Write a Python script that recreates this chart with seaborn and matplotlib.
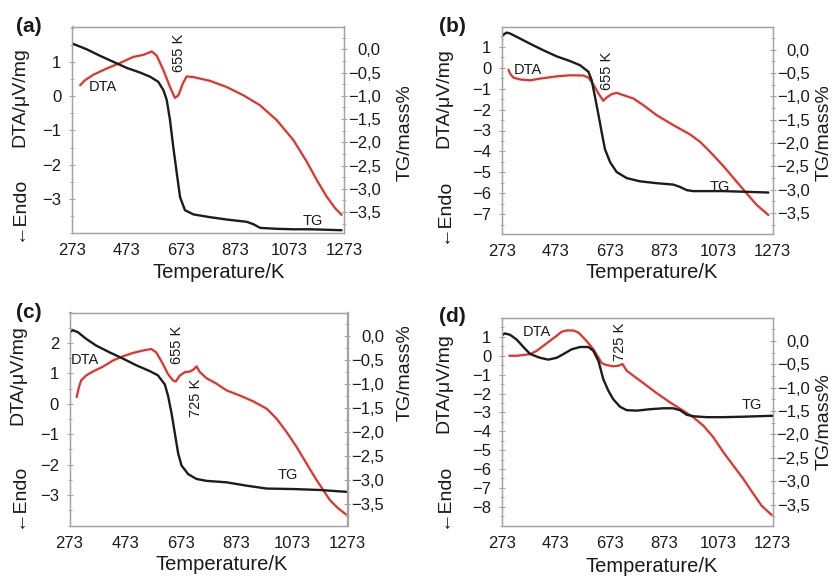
import matplotlib
matplotlib.use("Agg")
import matplotlib.pyplot as plt
import pandas as pd
import seaborn as sns
from matplotlib.ticker import MultipleLocator, FixedLocator, FuncFormatter

# values (temperature in K)
a_dta_temp = [304, 322, 353, 401, 450, 499, 536, 567, 585, 610, 634, 652, 665, 681, 695, 720, 781, 842, 903, 964, 1026, 1087, 1136, 1173, 1209, 1240, 1264]
a_dta = [0.32, 0.47, 0.63, 0.81, 0.97, 1.15, 1.21, 1.31, 1.19, 0.76, 0.27, -0.05, 0.03, 0.37, 0.58, 0.56, 0.45, 0.27, 0.03, -0.26, -0.70, -1.28, -1.91, -2.45, -2.93, -3.27, -3.47]
a_tg_temp = [273, 328, 377, 426, 475, 524, 561, 591, 610, 622, 634, 646, 659, 671, 689, 720, 781, 842, 916, 940, 965, 1026, 1087, 1148, 1264]
a_tg = [0.13, 0.0, -0.14, -0.27, -0.40, -0.50, -0.59, -0.70, -0.88, -1.09, -1.52, -2.10, -2.67, -3.18, -3.46, -3.55, -3.61, -3.66, -3.71, -3.76, -3.84, -3.86, -3.87, -3.87, -3.89]

b_dta_temp = [298, 304, 316, 341, 378, 414, 476, 525, 574, 593, 611, 630, 648, 660, 679, 697, 722, 759, 796, 845, 906, 968, 1005, 1042, 1091, 1140, 1177, 1214, 1257]
b_dta = [-0.09, -0.28, -0.47, -0.56, -0.60, -0.52, -0.41, -0.36, -0.37, -0.47, -0.79, -1.23, -1.58, -1.42, -1.26, -1.20, -1.31, -1.47, -1.79, -2.27, -2.74, -3.19, -3.54, -4.02, -4.70, -5.45, -6.01, -6.56, -7.04]
b_tg_temp = [273, 291, 304, 328, 378, 427, 476, 525, 562, 593, 605, 617, 630, 642, 654, 673, 697, 734, 783, 845, 906, 931, 956, 980, 1091, 1257]
b_tg = [0.30, 0.37, 0.35, 0.28, 0.13, -0.01, -0.14, -0.24, -0.33, -0.47, -0.65, -1.0, -1.39, -1.77, -2.13, -2.41, -2.62, -2.75, -2.82, -2.86, -2.89, -2.94, -3.01, -3.03, -3.03, -3.06]

c_dta_temp = [299, 307, 315, 333, 357, 393, 429, 465, 501, 537, 567, 585, 609, 627, 645, 655, 670, 688, 706, 718, 730, 742, 766, 802, 838, 886, 934, 982, 1018, 1054, 1090, 1126, 1162, 1186, 1210, 1240, 1268]
c_dta = [0.22, 0.55, 0.77, 0.93, 1.06, 1.22, 1.42, 1.56, 1.67, 1.75, 1.80, 1.69, 1.31, 0.98, 0.77, 0.73, 0.93, 1.04, 1.06, 1.12, 1.23, 1.04, 0.84, 0.66, 0.44, 0.27, 0.08, -0.16, -0.49, -0.93, -1.42, -1.97, -2.51, -2.84, -3.17, -3.44, -3.64]
c_tg_temp = [273, 285, 303, 333, 369, 417, 465, 513, 561, 591, 616, 628, 640, 652, 664, 676, 700, 730, 766, 838, 910, 982, 1078, 1174, 1273]
c_tg = [0.08, 0.12, 0.08, -0.06, -0.20, -0.34, -0.47, -0.61, -0.73, -0.82, -1.01, -1.26, -1.61, -2.03, -2.45, -2.70, -2.88, -2.98, -3.02, -3.05, -3.12, -3.18, -3.19, -3.21, -3.25]

d_dta_temp = [301, 328, 353, 378, 402, 427, 451, 476, 494, 513, 537, 556, 574, 593, 611, 630, 642, 660, 685, 703, 719, 734, 759, 796, 845, 894, 943, 980, 1017, 1054, 1091, 1128, 1165, 1202, 1232, 1269]
d_dta = [0.0, 0.0, 0.04, 0.09, 0.26, 0.53, 0.79, 1.06, 1.27, 1.34, 1.34, 1.23, 0.97, 0.67, 0.35, -0.09, -0.39, -0.49, -0.56, -0.53, -0.44, -0.79, -1.06, -1.45, -1.98, -2.47, -2.91, -3.26, -3.70, -4.32, -5.11, -5.82, -6.53, -7.32, -7.94, -8.43]
d_tg_temp = [273, 285, 304, 328, 353, 378, 414, 445, 476, 501, 531, 562, 593, 611, 630, 648, 667, 685, 710, 734, 771, 820, 870, 906, 931, 956, 980, 1029, 1091, 1165, 1273]
d_tg = [0.12, 0.16, 0.13, 0.03, -0.13, -0.28, -0.36, -0.40, -0.36, -0.28, -0.18, -0.13, -0.13, -0.21, -0.43, -0.82, -1.07, -1.25, -1.41, -1.48, -1.49, -1.46, -1.44, -1.44, -1.48, -1.58, -1.61, -1.63, -1.63, -1.62, -1.60]

x_ticks = [273, 473, 673, 873, 1073, 1273]
tg_ticks = [0.0, -0.5, -1.0, -1.5, -2.0, -2.5, -3.0, -3.5]

W, H = 835, 576
sns.set_theme(style="white")
plt.rcParams["font.family"] = ["Liberation Sans", "DejaVu Sans"]
plt.rcParams["axes.unicode_minus"] = True
plt.rcParams["lines.solid_joinstyle"] = "round"
plt.rcParams["lines.solid_capstyle"] = "round"

GREY = "#a3a3a3"
RED = "#e8302a"
BLACK = "#1c1c1c"
INK = "#1a1a1a"

# per panel: data, left limits, left ticks, axes box in px (left, top, right, bottom),
# and pixel spots of the loose texts
panels = [
    dict(tag="(a)", dta_t=a_dta_temp, dta=a_dta, tg_t=a_tg_temp, tg=a_tg,
         ylim=(-4, 2.04), yticks=[-3, -2, -1, 0, 1], box=(71.7, 26.5, 344, 233),
         tag_xy=(29, 27), ylab_xy=(20, 97), endo_xy=(19, 209), tglab_xy=(405, 133), xlab_xy=(219, 272),
         notes=[("DTA", 389, 0.27, 0), ("655 K", 666, 1.27, 90), ("TG", 1160, -3.66, 0)]),
    dict(tag="(b)", dta_t=b_dta_temp, dta=b_dta, tg_t=b_tg_temp, tg=b_tg,
         ylim=(-7.95, 1.95), yticks=[-7, -6, -5, -4, -3, -2, -1, 0, 1], box=(501.7, 27, 772.7, 234),
         tag_xy=(452, 27), ylab_xy=(444, 98), endo_xy=(444, 211), tglab_xy=(824, 133), xlab_xy=(652, 272),
         notes=[("DTA", 368, -0.12, 0), ("655 K", 663, -0.15, 90), ("TG", 1076, -5.69, 0)]),
    dict(tag="(c)", dta_t=c_dta_temp, dta=c_dta, tg_t=c_tg_temp, tg=c_tg,
         ylim=(-4, 3), yticks=[-3, -2, -1, 0, 1, 2], box=(69.5, 312.5, 347.5, 525.5),
         tag_xy=(29, 312), ylab_xy=(18, 375), endo_xy=(19, 496), tglab_xy=(405, 373), xlab_xy=(222, 565),
         notes=[("DTA", 329, 1.45, 0), ("655 K", 660, 1.93, 90), ("725 K", 728, 0.19, 90), ("TG", 1057, -2.35, 0)]),
    dict(tag="(d)", dta_t=d_dta_temp, dta=d_dta, tg_t=d_tg_temp, tg=d_tg,
         ylim=(-9, 2), yticks=[-8, -7, -6, -5, -4, -3, -2, -1, 0, 1], box=(501.7, 318, 772.7, 525.7),
         tag_xy=(452, 317), ylab_xy=(444, 383), endo_xy=(444, 496), tglab_xy=(824, 422), xlab_xy=(652, 566),
         notes=[("DTA", 402, 1.27, 0), ("725 K", 711, 0.74, 90), ("TG", 1195, -2.61, 0)]),
]

fig = plt.figure(figsize=(W / 100, H / 100), dpi=100)


def fx(px):
    return px / W


def fy(py):
    return 1 - py / H


def tg_fmt(v, pos):
    return f"{v:.1f}".replace(".", ",").replace("-", "\u2212")


for p in panels:
    l, t, r, b = p["box"]
    ax = fig.add_axes([fx(l), fy(b), (r - l) / W, (b - t) / H])
    ax2 = ax.twinx()

    dta_df = pd.DataFrame({"T": p["dta_t"], "v": p["dta"]})
    tg_df = pd.DataFrame({"T": p["tg_t"], "v": p["tg"]})
    sns.lineplot(data=dta_df, x="T", y="v", ax=ax, color=RED, linewidth=1.6, sort=False, estimator=None)
    sns.lineplot(data=tg_df, x="T", y="v", ax=ax2, color=BLACK, linewidth=1.7, sort=False, estimator=None)

    ax.set_xlim(273, 1273)
    ax.set_ylim(*p["ylim"])
    ax2.set_ylim(-3.95, 0.49)
    ax.set_xlabel("")
    ax.set_ylabel("")
    ax2.set_ylabel("")

    ax.xaxis.set_major_locator(FixedLocator(x_ticks))
    ax.xaxis.set_minor_locator(MultipleLocator(100))
    ax.yaxis.set_major_locator(FixedLocator(p["yticks"]))
    ax.yaxis.set_minor_locator(MultipleLocator(0.5))
    ax2.yaxis.set_major_locator(FixedLocator(tg_ticks))
    ax2.yaxis.set_minor_locator(MultipleLocator(0.25))
    ax2.yaxis.set_major_formatter(FuncFormatter(tg_fmt))

    for a in (ax, ax2):
        for s in a.spines.values():
            s.set_color(GREY)
            s.set_linewidth(0.9)
        a.tick_params(which="major", direction="inout", length=5, width=0.8, color=GREY,
                      labelsize=12, labelcolor=INK)
        a.tick_params(which="minor", direction="inout", length=3, width=0.6, color=GREY)
    ax.tick_params(axis="x", pad=5)
    ax.tick_params(axis="y", pad=5)
    ax2.tick_params(axis="y", which="major", pad=24)
    plt.setp(ax2.get_yticklabels(), ha="right")

    for txt, xv, yv, rot in p["notes"]:
        ax.text(xv, yv, txt, fontsize=10.5, ha="center", va="center", rotation=rot, color=INK)

    fig.text(fx(p["tag_xy"][0]), fy(p["tag_xy"][1]), p["tag"], fontsize=15, fontweight="bold",
             ha="center", va="center", color=INK)
    fig.text(fx(p["ylab_xy"][0]), fy(p["ylab_xy"][1]), "DTA/\u03bcV/mg", fontsize=14, rotation=90,
             ha="center", va="center", color=INK)
    fig.text(fx(p["endo_xy"][0]), fy(p["endo_xy"][1]), "\u2190Endo", fontsize=14, rotation=90,
             ha="center", va="center", color=INK)
    fig.text(fx(p["tglab_xy"][0]), fy(p["tglab_xy"][1]), "TG/mass%", fontsize=14, rotation=90,
             ha="center", va="center", color=INK)
    fig.text(fx(p["xlab_xy"][0]), fy(p["xlab_xy"][1]), "Temperature/K", fontsize=14.5,
             ha="center", va="center", color=INK)

fig.savefig("out.png", dpi=100)
